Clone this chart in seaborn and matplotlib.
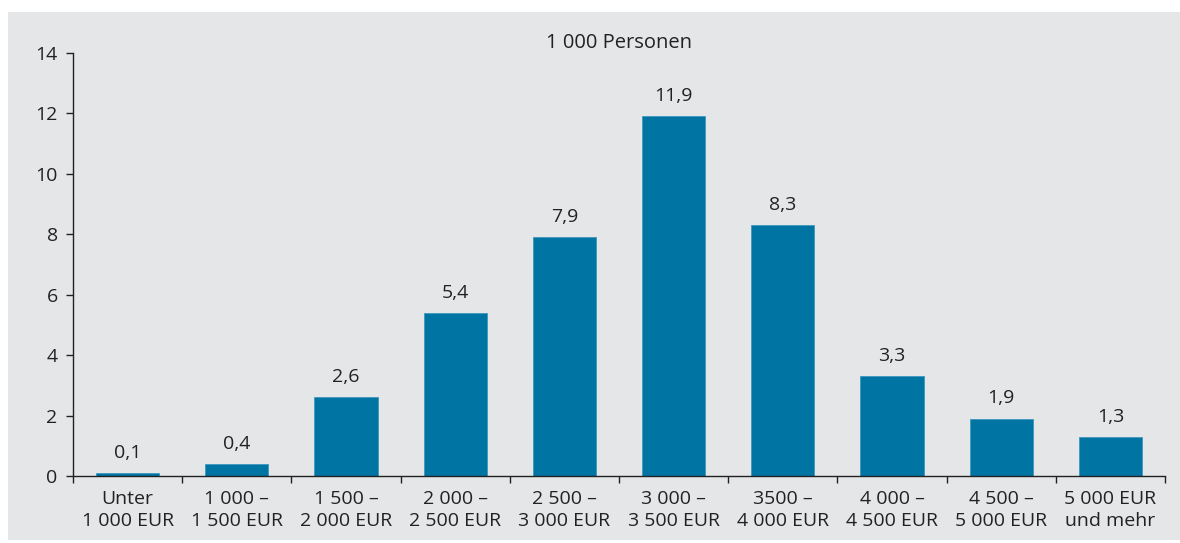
import matplotlib
matplotlib.use("Agg")
import matplotlib.pyplot as plt
import seaborn as sns
import pandas as pd
import numpy as np
from matplotlib.patches import Rectangle

# Income classes (monthly net) and number of persons in thousands
categories = [
    "Unter\n1 000 EUR", "1 000 –\n1 500 EUR", "1 500 –\n2 000 EUR",
    "2 000 –\n2 500 EUR", "2 500 –\n3 000 EUR", "3 000 –\n3 500 EUR",
    "3500 –\n4 000 EUR", "4 000 –\n4 500 EUR", "4 500 –\n5 000 EUR",
    "5 000 EUR\nund mehr",
]
persons = [0.1, 0.4, 2.6, 5.4, 7.9, 11.9, 8.3, 3.3, 1.9, 1.3]
y_ticks = [0, 2, 4, 6, 8, 10, 12, 14]
unit_label = "1 000 Personen"

bar_color = "#0075a4"
bar_edge = "#3d97bd"
panel_color = "#e5e6e8"
text_color = "#222222"
fs = 14

sns.set_theme(style="white")
plt.rcParams["font.family"] = ["Open Sans", "DejaVu Sans"]

df = pd.DataFrame({"klasse": categories, "personen": persons})

fig = plt.figure(figsize=(11.8, 5.43), dpi=100)
fig.patch.set_facecolor("white")
W, H = 1180, 543
# grey panel behind the chart
panel = Rectangle((8 / W, 1 - 540 / H), 1 - 8 / W, (540 - 12) / H,
                  transform=fig.transFigure, facecolor=panel_color,
                  edgecolor="none", zorder=-10)
fig.add_artist(panel)

ax = fig.add_axes([73 / W, 1 - 476 / H, (1165 - 73) / W, (476 - 53) / H])
ax.set_facecolor("none")
ax.set_zorder(1)

sns.barplot(data=df, x="klasse", y="personen", color=bar_color,
            saturation=1, width=0.58, edgecolor=bar_edge, linewidth=0.6, ax=ax)

for c in ax.containers:
    ax.bar_label(c, labels=[f"{v:.1f}".replace(".", ",") for v in persons],
                 padding=8, fontsize=fs, color=text_color)

ax.set_xlim(-0.5, len(categories) - 0.5)
ax.set_ylim(0, 14)
ax.set_yticks(y_ticks)
ax.set_xlabel("")
ax.set_ylabel("")

# tick marks at the class boundaries, labels at the class centres
ax.set_xticks(np.arange(len(categories)))
ax.set_xticklabels(categories, fontsize=fs, color=text_color, linespacing=1.3)
ax.set_xticks(np.arange(len(categories) + 1) - 0.5, minor=True)
ax.tick_params(axis="x", which="major", length=0, pad=10)
ax.tick_params(axis="x", which="minor", length=5, width=1, color="#222222",
               direction="out", bottom=True)
ax.tick_params(axis="y", length=5, width=1, color="#222222", direction="out",
               left=True, labelsize=fs, labelcolor=text_color, pad=6)

for s in ["top", "right"]:
    ax.spines[s].set_visible(False)
for s in ["left", "bottom"]:
    ax.spines[s].set_color("#222222")
    ax.spines[s].set_linewidth(1)

fig.text(619 / W, 1 - 43 / H, unit_label, ha="center", va="center",
         fontsize=14.5, color=text_color)

fig.savefig("out.png", dpi=100)
